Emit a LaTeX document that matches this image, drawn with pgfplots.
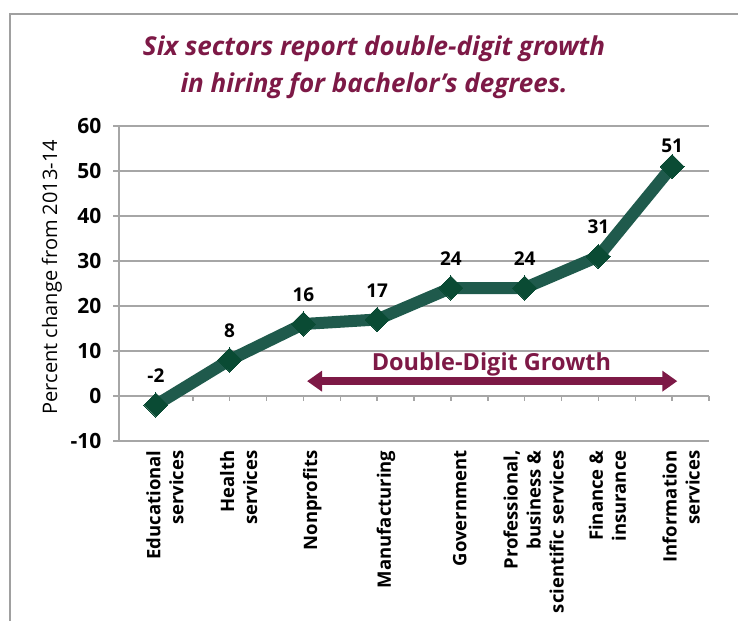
\documentclass[border=0pt]{standalone}
\usepackage{fontspec}
\setmainfont{Open Sans}
\usepackage{pgfplots}
\pgfplotsset{compat=1.18}
\usetikzlibrary{arrows.meta}

\definecolor{linegreen}{RGB}{31,90,76}
\definecolor{markgreen}{RGB}{10,75,52}
\definecolor{maroon}{RGB}{125,25,70}
\definecolor{gridgray}{RGB}{166,166,166}
\definecolor{framegray}{RGB}{160,160,160}

\begin{document}
\begin{tikzpicture}[x=1pt,y=1pt]
\path[use as bounding box] (0,0) rectangle (738,621);
\draw[framegray, line width=2.5pt] (10,0) -- (10,607) -- (738,607);
\node[font=\bfseries\itshape\fontsize{26}{37}\selectfont, text=maroon, align=center]
  at (374,554) {Six sectors report double-digit growth\\in hiring for bachelor’s degrees.};

\begin{axis}[
    at={(119pt,180pt)}, anchor=south west,
    scale only axis, width=590pt, height=315pt,
    xmin=-0.5, xmax=7.5, ymin=-10, ymax=60,
    ytick={-10,0,...,60},
    xtick={0,...,7},
    xticklabels={{Educational\\services},{Health\\services},Nonprofits,Manufacturing,Government,{Professional,\\business \&\\scientific services},{Finance \&\\insurance},{Information\\services}},
    axis x line*=bottom, axis y line*=left,
    axis line style={gridgray, line width=2pt, -},
    ymajorgrids, grid style={gridgray, line width=2pt},
    tick align=outside,
    ytick style={gridgray, line width=1.5pt}, major tick length=6pt,
    xtick style={draw=none},
    /pgf/number format/assume math mode=true,
    yticklabel style={font=\bfseries\fontsize{21}{24}\selectfont, xshift=-8pt},
    xticklabel style={font=\bfseries\fontsize{18.5}{23}\selectfont, rotate=90, anchor=east, align=right, yshift=-9pt},
    ylabel={Percent change from 2013-14},
    ylabel style={font=\fontsize{20}{23}\selectfont, at={(axis description cs:-0.1136,0.52)}, anchor=center},
    clip=false,
    nodes near coords,
    visualization depends on={y \as \rawy},
    every node near coord/.append style={font=\bfseries\fontsize{19}{22}\selectfont, text=black, anchor=south, yshift={\rawy>50 ? 10 : 19}},
]
\pgfplotsinvokeforeach{-0.5,0,...,7.5}{\draw[gridgray, line width=1.5pt] (axis cs:#1,0) -- ([yshift=-5pt]axis cs:#1,0);}
\addplot[linegreen, line width=12pt, mark=square*, mark size=8.5pt,
    mark options={rotate=45, fill=markgreen, draw=markgreen, line width=0pt}]
  coordinates {(0,-2) (1,8) (2,16) (3,17) (4,24) (5,24) (6,31) (7,51)};
\draw[maroon, line width=8pt, -{Triangle[length=15pt,width=20pt]}] (axis cs:4.5,3.3) -- (axis cs:7.07,3.3);
\draw[maroon, line width=8pt, -{Triangle[length=15pt,width=20pt]}] (axis cs:4.5,3.3) -- (axis cs:2.05,3.3);
\node[font=\bfseries\fontsize{23.5}{26}\selectfont, text=maroon] at (axis cs:4.55,7.0) {Double-Digit Growth};
\end{axis}
\end{tikzpicture}
\end{document}
